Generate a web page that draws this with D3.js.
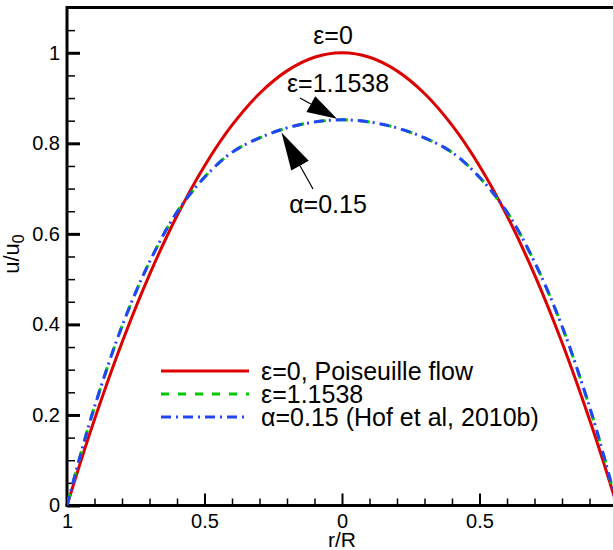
<!DOCTYPE html>
<html>
<head>
<meta charset="utf-8">
<script src="https://cdn.jsdelivr.net/npm/d3@7"></script>
<style>
  html, body { margin: 0; padding: 0; background: #fff; }
  svg { display: block; font-family: "Liberation Sans", Arial, Helvetica, sans-serif; }
</style>
</head>
<body>
<svg id="chart" width="614" height="550"></svg>
<script>
// ---- data ----
const rValues      = [-1, -0.95, -0.9, -0.8, -0.7, -0.6, -0.5, -0.4, -0.3, -0.2, -0.1, 0, 0.1, 0.2, 0.3, 0.4, 0.5, 0.6, 0.7, 0.8, 0.9, 0.95, 1];
const poiseuille   = [0, 0.0975, 0.19, 0.36, 0.51, 0.64, 0.75, 0.84, 0.91, 0.96, 0.99, 1, 0.99, 0.96, 0.91, 0.84, 0.75, 0.64, 0.51, 0.36, 0.19, 0.0975, 0];
const eps11538     = [0, 0.114, 0.218, 0.396, 0.538, 0.648, 0.725, 0.780, 0.812, 0.834, 0.847, 0.852, 0.847, 0.834, 0.812, 0.780, 0.725, 0.648, 0.538, 0.396, 0.218, 0.114, 0];
const alpha015     = [0, 0.114, 0.218, 0.396, 0.538, 0.648, 0.725, 0.780, 0.812, 0.834, 0.847, 0.852, 0.847, 0.834, 0.812, 0.780, 0.725, 0.648, 0.538, 0.396, 0.218, 0.114, 0];
const xTickValues  = [-1, -0.5, 0, 0.5, 1];
const xTickLabels  = ["1", "0.5", "0", "0.5", "1"];
const yTickValues  = [0, 0.2, 0.4, 0.6, 0.8, 1];
const yTickLabels  = ["0", "0.2", "0.4", "0.6", "0.8", "1"];
const seriesNames  = ["\u03b5=0, Poiseuille flow", "\u03b5=1.1538", "\u03b1=0.15 (Hof et al, 2010b)"];

// ---- layout ----
const svg = d3.select("#chart");
const x = d3.scaleLinear().domain([-1, 1]).range([67, 617]);
const y = d3.scaleLinear().domain([0, 1.1]).range([505.5, 7.5]);

const red = "#dd0000", green = "#00c800", blue = "#2244ff";

// minor ticks
const xMinor = d3.range(-10, 11).map(d => d / 10).filter(d => Math.abs(d * 2 - Math.round(d * 2)) > 1e-9);
const yMinor = d3.range(0, 23).map(d => d * 0.05).filter(d => Math.abs(d * 5 - Math.round(d * 5)) > 1e-9);

const gx = svg.append("g").attr("transform", `translate(0,${y(0)})`);
gx.call(d3.axisBottom(x).tickValues(xMinor).tickSize(-7).tickFormat(""));
gx.select("path").remove();
const gx2 = svg.append("g").attr("transform", `translate(0,${y(0)})`);
gx2.call(d3.axisBottom(x).tickValues(xTickValues).tickSize(-12).tickPadding(8)
  .tickFormat((d, i) => xTickLabels[i]));
gx2.select("path").remove();

const gy = svg.append("g").attr("transform", `translate(${x(-1)},0)`);
gy.call(d3.axisLeft(y).tickValues(yMinor).tickSize(-8).tickFormat(""));
gy.select("path").remove();
const gy2 = svg.append("g").attr("transform", `translate(${x(-1)},0)`);
gy2.call(d3.axisLeft(y).tickValues(yTickValues).tickSize(-13).tickPadding(7)
  .tickFormat((d, i) => yTickLabels[i]));
gy2.select("path").remove();

svg.selectAll(".tick line").attr("stroke", "#000").attr("stroke-width", 1.5);
gy2.selectAll(".tick line").attr("stroke-width", 3);
gx2.selectAll(".tick line").attr("stroke-width", 2);
svg.selectAll(".tick text").attr("fill", "#000").style("font-size", "20px");

// frame
svg.append("path")
  .attr("d", `M${x(-1)},${y(0)} L${x(-1)},${y(1.1)} L${x(1)},${y(1.1)}`)
  .attr("fill", "none").attr("stroke", "#000").attr("stroke-width", 3);
svg.append("line").attr("x1", x(-1) - 1.5).attr("x2", 614).attr("y1", y(0)).attr("y2", y(0))
  .attr("stroke", "#000").attr("stroke-width", 3);

// curves
const line = d3.line().x(d => x(d[0])).y(d => y(d[1])).curve(d3.curveCatmullRom.alpha(0.5));
svg.append("clipPath").attr("id", "clip").append("rect")
  .attr("x", x(-1)).attr("y", y(1.1)).attr("width", x(1) - x(-1)).attr("height", y(0) - y(1.1));

const plot = svg.append("g").attr("clip-path", "url(#clip)");
plot.append("path").datum(rValues.map((r, i) => [r, poiseuille[i]]))
  .attr("d", line).attr("fill", "none").attr("stroke", red).attr("stroke-width", 3);
plot.append("path").datum(rValues.map((r, i) => [r, eps11538[i]]))
  .attr("d", line).attr("fill", "none").attr("stroke", green).attr("stroke-width", 3)
  .attr("stroke-dasharray", "10,12").attr("stroke-dashoffset", -2);
plot.append("path").datum(rValues.map((r, i) => [r, alpha015[i]]))
  .attr("d", line).attr("fill", "none").attr("stroke", blue).attr("stroke-width", 3)
  .attr("stroke-dasharray", "10,5,2,5");

// legend
const legend = svg.append("g");
const legendRows = [
  { name: seriesNames[0], color: red, dash: null, y: 371 },
  { name: seriesNames[1], color: green, dash: "8,9", y: 394 },
  { name: seriesNames[2], color: blue, dash: "10,5,2,5", y: 417 }
];
legendRows.forEach(r => {
  legend.append("line").attr("x1", 161).attr("x2", 249).attr("y1", r.y).attr("y2", r.y)
    .attr("stroke", r.color).attr("stroke-width", 3).attr("stroke-dasharray", r.dash);
  legend.append("text").attr("x", 261).attr("y", r.y).attr("dy", "0.36em")
    .style("font-size", "25px").text(r.name);
});

// annotations
svg.append("text").attr("x", 333).attr("y", 44).attr("text-anchor", "middle")
  .style("font-size", "25px").text("\u03b5=0");
svg.append("text").attr("x", 338).attr("y", 92).attr("text-anchor", "middle")
  .style("font-size", "25px").text("\u03b5=1.1538");
svg.append("text").attr("x", 328).attr("y", 213).attr("text-anchor", "middle")
  .style("font-size", "25px").text("\u03b1=0.15");

function arrow(x1, y1, x2, y2, len, half) {
  const dx = x2 - x1, dy = y2 - y1, L = Math.hypot(dx, dy);
  const ux = dx / L, uy = dy / L;
  const bx = x2 - ux * len, by = y2 - uy * len;
  svg.append("line").attr("x1", x1).attr("y1", y1).attr("x2", bx).attr("y2", by)
    .attr("stroke", "#000").attr("stroke-width", 1.2);
  svg.append("path").attr("d",
    `M${x2},${y2} L${bx - uy * half},${by + ux * half} L${bx + uy * half},${by - ux * half} Z`)
    .attr("fill", "#000");
}
arrow(300, 98, x(0) - 5, y(0.852) - 1, 30, 9);
arrow(313, 189, x(-0.22), y(0.826) + 1, 38, 10);

// axis titles
svg.append("text").attr("x", x(0)).attr("y", 547).attr("text-anchor", "middle")
  .style("font-size", "21px").text("r/R");
const yt = svg.append("text").attr("transform", "translate(19,254) rotate(-90)")
  .attr("text-anchor", "middle").style("font-size", "22px");
yt.append("tspan").text("u/u");
yt.append("tspan").attr("dy", 5).style("font-size", "16px").text("0");

// light edge line at right
svg.append("line").attr("x1", 613.5).attr("x2", 613.5).attr("y1", 0).attr("y2", 550)
  .attr("stroke", "#d8d8d8").attr("stroke-width", 1);
</script>
</body>
</html>
